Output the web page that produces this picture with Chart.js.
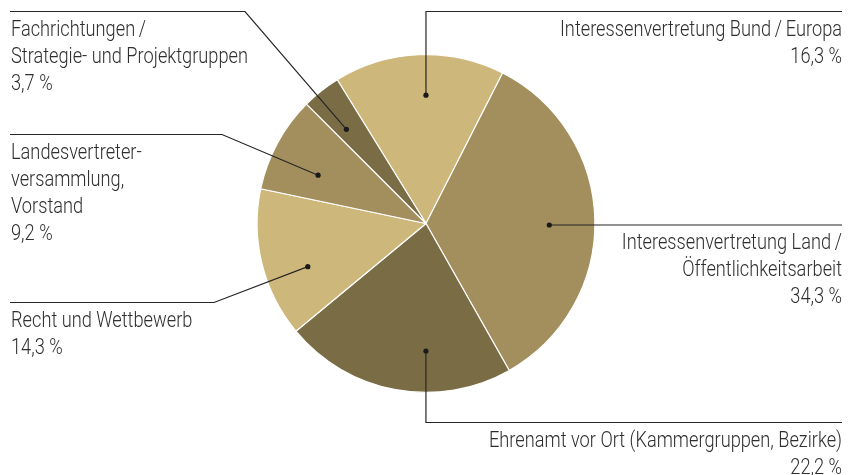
<!DOCTYPE html>
<html>
<head>
<meta charset="utf-8">
<script src="https://cdn.jsdelivr.net/npm/chart.js@4"></script>
<style>
  html, body { margin: 0; padding: 0; background: #fff; }
  #wrap { width: 852px; height: 475px; }
</style>
</head>
<body>
<div id="wrap"><canvas id="anteile"></canvas></div>
<script>
// Anteile der Arbeitsbereiche, im Uhrzeigersinn ab "Bund / Europa"
const labelLines = [
    ['Interessenvertretung Bund\u2009/\u2009Europa'],
    ['Interessenvertretung Land\u2009/', 'Öffentlichkeitsarbeit'],
    ['Ehrenamt vor Ort (Kammergruppen, Bezirke)'],
    ['Recht und Wettbewerb'],
    ['Landesvertreter-', 'versammlung,', 'Vorstand'],
    ['Fachrichtungen\u2009/', 'Strategie- und Projektgruppen']
];
const shares = [16.3, 34.3, 22.2, 14.3, 9.2, 3.7];
const colors = ['#cdb77a', '#a38f5e', '#7a6d46', '#cdb77a', '#a38f5e', '#7a6d46'];

// Führungslinien: Lage des Punkts im Segment, Seite und Knick
const leaders = [
    { at: 0.54, r: 0.76, side: 'right', mode: 'up', lineY: 11.5 },
    { at: 0.516, r: 0.73, side: 'right', mode: 'flat' },
    { at: 0.37, r: 0.755, side: 'right', mode: 'down', lineY: 422.5 },
    { at: 0.38, r: 0.745, side: 'left', elbowX: 214, lineY: 302.5 },
    { at: 0.37, r: 0.70, side: 'left', elbowX: 222, lineY: 134.5 },
    { at: 0.36, r: 0.73, side: 'left', elbowX: 245, lineY: 11.5 }
];

// schmale Schrift: Roboto Light, horizontal gestaucht
const FONT = '300 22.5px Roboto, "Noto Sans", sans-serif';
const WIDTH_REF = ['Ehrenamt vor Ort (Kammergruppen, Bezirke)', 353];
const LINE_H = 27;
const LEFT_X = 10;
const RIGHT_X = 842;

function pct(v) {
    return v.toFixed(1).replace('.', ',') + ' %';
}

const leaderPlugin = {
    id: 'leaderLabels',
    afterDraw(chart) {
        const ctx = chart.ctx;
        const arcs = chart.getDatasetMeta(0).data;
        ctx.save();
        ctx.font = FONT;
        const sx = WIDTH_REF[1] / ctx.measureText(WIDTH_REF[0]).width;

        arcs.forEach((arc, i) => {
            const p = arc.getProps(['x', 'y', 'startAngle', 'endAngle', 'outerRadius'], true);
            const cfg = leaders[i];
            const a = p.startAngle + cfg.at * (p.endAngle - p.startAngle);
            const dx = p.x + Math.cos(a) * p.outerRadius * cfg.r;
            const dy = p.y + Math.sin(a) * p.outerRadius * cfg.r;

            // Linie
            ctx.strokeStyle = '#262626';
            ctx.lineWidth = 1.2;
            ctx.beginPath();
            ctx.moveTo(dx, dy);
            let lineY;
            if (cfg.mode === 'flat') {
                lineY = dy;
                ctx.lineTo(RIGHT_X, dy);
            } else if (cfg.side === 'right') {
                lineY = cfg.lineY;
                ctx.lineTo(dx, lineY);
                ctx.lineTo(RIGHT_X, lineY);
            } else {
                lineY = cfg.lineY;
                ctx.lineTo(cfg.elbowX, lineY);
                ctx.lineTo(LEFT_X, lineY);
            }
            ctx.stroke();

            // Punkt
            ctx.fillStyle = '#1a1a1a';
            ctx.beginPath();
            ctx.arc(dx, dy, 2.6, 0, Math.PI * 2);
            ctx.fill();

            // Beschriftung
            ctx.fillStyle = '#2e2e2e';
            ctx.font = FONT;
            ctx.textBaseline = 'alphabetic';
            ctx.textAlign = cfg.side === 'right' ? 'right' : 'left';
            const tx = cfg.side === 'right' ? RIGHT_X : LEFT_X + 1;
            const lines = labelLines[i].concat([pct(shares[i])]);
            lines.forEach((t, k) => {
                ctx.save();
                ctx.translate(tx, lineY + 24 + k * LINE_H);
                ctx.scale(sx, 1);
                ctx.fillText(t, 0, 0);
                ctx.restore();
            });
        });
        ctx.restore();
    }
};

new Chart(document.getElementById('anteile'), {
    type: 'pie',
    data: {
        labels: labelLines.map(l => l.join(' ')),
        datasets: [{
            data: shares,
            backgroundColor: colors,
            borderColor: '#fff',
            borderWidth: 1.2
        }]
    },
    options: {
        responsive: true,
        maintainAspectRatio: false,
        animation: false,
        rotation: -31.7,
        layout: {
            padding: { top: 54, bottom: 82 }
        },
        plugins: {
            legend: { display: false },
            tooltip: { enabled: false }
        }
    },
    plugins: [leaderPlugin]
});
</script>
</body>
</html>
